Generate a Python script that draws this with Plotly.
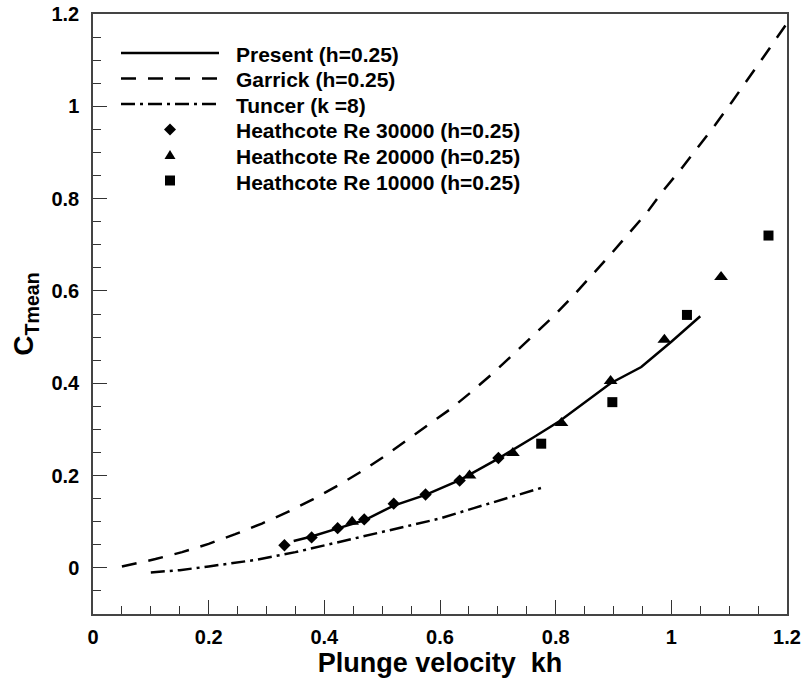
import plotly.graph_objects as go

# ---------------- data ----------------
present_x = [0.347, 0.378, 0.422, 0.469, 0.520, 0.575, 0.634, 0.700, 0.762, 0.807, 0.895, 0.948, 1.000, 1.050]
present_y = [0.058, 0.068, 0.085, 0.103, 0.135, 0.158, 0.190, 0.236, 0.283, 0.318, 0.400, 0.435, 0.490, 0.545]

garrick_x = [0.050, 0.108, 0.154, 0.200, 0.246, 0.292, 0.335, 0.381, 0.423, 0.463, 0.503, 0.540, 0.580,
             0.618, 0.655, 0.690, 0.727, 0.762, 0.797, 0.830, 0.863, 0.895, 0.926, 0.958, 0.987, 1.018,
             1.047, 1.076, 1.105, 1.134, 1.160, 1.200]
garrick_y = [0.003, 0.019, 0.034, 0.052, 0.073, 0.096, 0.120, 0.149, 0.178, 0.208, 0.241, 0.274, 0.309,
             0.344, 0.382, 0.420, 0.463, 0.504, 0.546, 0.589, 0.634, 0.679, 0.724, 0.770, 0.819, 0.866,
             0.913, 0.960, 1.010, 1.061, 1.108, 1.180]

tuncer_x = [0.100, 0.150, 0.200, 0.280, 0.350, 0.440, 0.550, 0.600, 0.660, 0.720, 0.780]
tuncer_y = [-0.010, -0.005, 0.003, 0.017, 0.034, 0.060, 0.091, 0.107, 0.130, 0.152, 0.175]

heath30_x = [0.331, 0.378, 0.423, 0.469, 0.520, 0.575, 0.634, 0.701]
heath30_y = [0.049, 0.066, 0.086, 0.105, 0.139, 0.159, 0.189, 0.238]

heath20_x = [0.448, 0.651, 0.726, 0.810, 0.895, 0.988, 1.086]
heath20_y = [0.100, 0.200, 0.249, 0.314, 0.405, 0.494, 0.630]

heath10_x = [0.775, 0.898, 1.027, 1.168]
heath10_y = [0.269, 0.359, 0.548, 0.720]

legend_labels = ["Present (h=0.25)", "Garrick (h=0.25)", "Tuncer (k =8)",
                 "Heathcote Re 30000 (h=0.25)", "Heathcote Re 20000 (h=0.25)",
                 "Heathcote Re 10000 (h=0.25)"]

x_ticks = [0, 0.2, 0.4, 0.6, 0.8, 1, 1.2]
y_ticks = [0, 0.2, 0.4, 0.6, 0.8, 1, 1.2]

# ---------------- style ----------------
FONT = "Liberation Sans, Arial, Helvetica, sans-serif"
W, H = 804, 678
ML, MR, MT, MB = 93, 17, 14, 64
PW, PH = W - ML - MR, H - MT - MB
DASH = "15px,12px"
DASHDOT = "14px,5px,3px,5px"

fig = go.Figure()
fig.add_trace(go.Scatter(x=present_x, y=present_y, mode="lines",
                         line=dict(color="black", width=2.5), name=legend_labels[0]))
fig.add_trace(go.Scatter(x=garrick_x, y=garrick_y, mode="lines",
                         line=dict(color="black", width=2.5, dash=DASH), name=legend_labels[1]))
fig.add_trace(go.Scatter(x=tuncer_x, y=tuncer_y, mode="lines",
                         line=dict(color="black", width=2.5, dash=DASHDOT), name=legend_labels[2]))
fig.add_trace(go.Scatter(x=heath30_x, y=heath30_y, mode="markers",
                         marker=dict(symbol="diamond", size=9.5, color="black"), name=legend_labels[3]))
fig.add_trace(go.Scatter(x=heath20_x, y=heath20_y, mode="markers",
                         marker=dict(symbol="triangle-up", size=12, color="black"), name=legend_labels[4]))
fig.add_trace(go.Scatter(x=heath10_x, y=heath10_y, mode="markers",
                         marker=dict(symbol="square", size=10, color="black"), name=legend_labels[5]))


# ---------------- manual legend (paper coordinates) ----------------
def px2x(px):
    return (px - ML) / PW


def px2y(py):
    return (H - MB - py) / PH


rows = [53, 78.5, 104, 129.5, 155, 180.5]
line_x0, line_x1, mark_x, text_x = 121, 219, 170, 234
shapes = []
annotations = []
dashes = ["solid", DASH, DASHDOT]
for i in range(3):
    shapes.append(dict(type="line", xref="paper", yref="paper",
                       x0=px2x(line_x0), x1=px2x(line_x1), y0=px2y(rows[i]), y1=px2y(rows[i]),
                       line=dict(color="black", width=2.5, dash=dashes[i])))


def path_from(points):
    s = "M " + " L ".join(f"{px2x(px):.5f},{px2y(py):.5f}" for px, py in points) + " Z"
    return s


cy = rows[3]
shapes.append(dict(type="path", xref="paper", yref="paper", fillcolor="black", line=dict(width=0),
                   path=path_from([(mark_x - 6, cy), (mark_x, cy - 6), (mark_x + 6, cy), (mark_x, cy + 6)])))
cy = rows[4]
shapes.append(dict(type="path", xref="paper", yref="paper", fillcolor="black", line=dict(width=0),
                   path=path_from([(mark_x - 5.5, cy + 4), (mark_x + 5.5, cy + 4), (mark_x, cy - 5)])))
cy = rows[5]
shapes.append(dict(type="path", xref="paper", yref="paper", fillcolor="black", line=dict(width=0),
                   path=path_from([(mark_x - 5, cy - 5), (mark_x + 5, cy - 5), (mark_x + 5, cy + 5), (mark_x - 5, cy + 5)])))

for lab, r in zip(legend_labels, rows):
    annotations.append(dict(xref="paper", yref="paper", x=px2x(text_x), y=px2y(r + 1.5),
                            xanchor="left", yanchor="middle", showarrow=False, text=f"<b>{lab}</b>",
                            font=dict(family=FONT, size=21, color="black")))

axis_common = dict(
    showgrid=False, zeroline=False, automargin=False,
    showline=True, linecolor="#444", linewidth=1.5, mirror=True,
    ticks="inside", ticklen=14, tickwidth=1.2, tickcolor="#333",
    tickfont=dict(family=FONT, size=20, color="black", weight="bold"),
    minor=dict(ticks="inside", ticklen=8, tickwidth=1.2, tickcolor="#333", dtick=0.05, showgrid=False),
)

fig.update_layout(
    width=W, height=H,
    margin=dict(l=ML, r=MR, t=MT, b=MB, autoexpand=False),
    paper_bgcolor="white", plot_bgcolor="white",
    showlegend=False,
    font=dict(family=FONT, color="black"),
    shapes=shapes,
    annotations=annotations,
    xaxis=dict(range=[0, 1.2], tickvals=x_ticks, ticktext=[f"{v:g}" for v in x_ticks],
               ticklabelstandoff=4,
               title=dict(text="<b>Plunge velocity\u00a0 kh</b>", font=dict(family=FONT, size=27, color="black"),
                          standoff=5),
               **axis_common),
    yaxis=dict(range=[-0.1, 1.2], tickvals=y_ticks, ticktext=[f"{v:g}" for v in y_ticks],
               ticklabelstandoff=8,
               title=dict(text="<b>C<sub>Tmean</sub></b>", font=dict(family=FONT, size=28, color="black"),
                          standoff=10),
               **axis_common),
)

fig.write_html("out.html",
               config={"displayModeBar": False},
               post_script="document.body.style.margin='0';document.body.style.padding='0';")
